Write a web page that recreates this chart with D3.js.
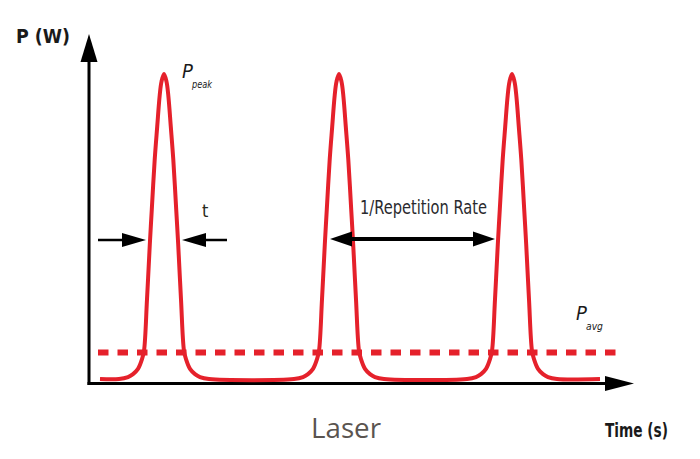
<!DOCTYPE html>
<html>
<head>
<meta charset="utf-8">
<script src="https://cdn.jsdelivr.net/npm/d3@7"></script>
<style>
  html, body { margin: 0; padding: 0; background: #ffffff; }
  svg { display: block; }
</style>
</head>
<body>
<svg id="chart" width="700" height="459"></svg>
<script>
// ---- data (arbitrary time units, normalised power) ----
const pulseCenters = [75, 250, 423];
const pulseOffsets = [-45, -36, -31, -26, -22, -20, -17, -14.2, -12.2, -9.3, -6.8, -4.3, -2.5, 0, 2.5, 4.3, 6.8, 9.3, 12.2, 14.2, 17, 20, 22, 26, 31, 36, 45];
const pulsePowers  = [0, 0.0065, 0.016, 0.033, 0.065, 0.092, 0.261, 0.441, 0.556, 0.719, 0.827, 0.93, 0.975, 1, 0.975, 0.93, 0.827, 0.719, 0.556, 0.441, 0.261, 0.092, 0.065, 0.033, 0.016, 0.0065, 0];
const traceStart = 11;
const traceEnd = 511;
const avgPower = 0.087;
const avgStart = 9;
const avgEnd = 535;
const timeDomain = [0, 546];
const powerDomain = [0, 1];
const labels = { yAxis: "P (W)", xAxis: "Time (s)", caption: "Laser", rep: "1/Repetition Rate", width: "t", peak: ["P", "peak"], avg: ["P", "avg"] };

// ---- scales ----
const x = d3.scaleLinear().domain(timeDomain).range([89, 635]);
const y = d3.scaleLinear().domain(powerDomain).range([379, 74]);

const svg = d3.select("#chart");
const red = "#e5212b";
const condensed = "'DejaVu Sans Condensed', 'Liberation Sans Narrow', 'DejaVu Sans', sans-serif";

// ---- build trace points ----
const pts = [[traceStart, 0]];
pulseCenters.forEach(c => {
  pulseOffsets.forEach((o, i) => pts.push([c + o, pulsePowers[i]]));
});
pts.push([traceEnd, 0]);

// ---- average power dashed line ----
svg.append("line")
  .attr("x1", x(avgStart)).attr("x2", x(avgEnd))
  .attr("y1", y(avgPower)).attr("y2", y(avgPower))
  .attr("stroke", red).attr("stroke-width", 6)
  .attr("stroke-dasharray", "10.5 9");

// ---- axes (arrows) ----
const axisY0 = y(0) + 4.5;
const ax = svg.append("g");
ax.append("line").attr("x1", x(0)).attr("x2", x(0)).attr("y1", axisY0 + 1.5).attr("y2", 55)
  .attr("stroke", "#000").attr("stroke-width", 3);
ax.append("path").attr("d", d3.line()([[x(0), 34], [x(0) - 8.5, 62], [x(0) + 8.5, 62]]) + "Z").attr("fill", "#000");
ax.append("line").attr("x1", x(0) - 1.5).attr("x2", 612).attr("y1", axisY0).attr("y2", axisY0)
  .attr("stroke", "#000").attr("stroke-width", 3);
ax.append("path").attr("d", d3.line()([[x(timeDomain[1]) - 1, axisY0], [605, axisY0 - 7.5], [605, axisY0 + 7.5]]) + "Z").attr("fill", "#000");

// ---- pulse trace ----
svg.append("path")
  .datum(pts)
  .attr("fill", "none")
  .attr("stroke", red)
  .attr("stroke-width", 4)
  .attr("stroke-linejoin", "round")
  .attr("d", d3.line().x(d => x(d[0])).y(d => y(d[1])).curve(d3.curveCatmullRom.alpha(0.5)));

// ---- helper arrows ----
function arrowHead(g, tipX, tipY, dir, len, hw) {
  g.append("path")
    .attr("d", d3.line()([[tipX, tipY], [tipX - dir * len, tipY - hw], [tipX - dir * len, tipY + hw]]) + "Z")
    .attr("fill", "#000");
}
const ann = svg.append("g");
// pulse width arrows
const wy = 240;
ann.append("line").attr("x1", 98).attr("x2", x(pulseCenters[0] - 18) - 15).attr("y1", wy).attr("y2", wy).attr("stroke", "#000").attr("stroke-width", 2.5);
arrowHead(ann, x(pulseCenters[0] - 18), wy, 1, 24, 7);
ann.append("line").attr("x1", x(pulseCenters[0] + 18) + 15).attr("x2", 227).attr("y1", wy).attr("y2", wy).attr("stroke", "#000").attr("stroke-width", 2.5);
arrowHead(ann, x(pulseCenters[0] + 18), wy, -1, 24, 7);

// repetition arrow (one period)
const ry = 239;
const rx1 = x(pulseCenters[1] - 9), rx2 = x(pulseCenters[2] - 17);
ann.append("line").attr("x1", rx1 + 10).attr("x2", rx2 - 10).attr("y1", ry).attr("y2", ry).attr("stroke", "#000").attr("stroke-width", 4);
arrowHead(ann, rx1, ry, -1, 22, 7.5);
arrowHead(ann, rx2, ry, 1, 22, 7.5);

// ---- text ----
svg.append("text").attr("x", 16).attr("y", 43).text(labels.yAxis)
  .attr("font-family", condensed).attr("font-weight", "bold").attr("font-size", 20)
  .attr("fill", "#1a1a1a").attr("textLength", 54).attr("lengthAdjust", "spacingAndGlyphs");

svg.append("text").attr("x", 605).attr("y", 437).text(labels.xAxis)
  .attr("font-family", condensed).attr("font-weight", "bold").attr("font-size", 19)
  .attr("fill", "#1a1a1a").attr("textLength", 63).attr("lengthAdjust", "spacingAndGlyphs");

svg.append("text").attr("x", 311).attr("y", 438).text(labels.caption)
  .attr("font-family", "'Open Sans', sans-serif").attr("font-size", 27)
  .attr("fill", "#5a5450").attr("textLength", 70).attr("lengthAdjust", "spacingAndGlyphs");

svg.append("text").attr("x", 360).attr("y", 214).text(labels.rep)
  .attr("font-family", condensed).attr("font-size", 19)
  .attr("fill", "#2a2a2e").attr("textLength", 127).attr("lengthAdjust", "spacingAndGlyphs");

svg.append("text").attr("x", 202).attr("y", 217).text(labels.width)
  .attr("font-family", condensed).attr("font-size", 18)
  .attr("fill", "#2b2a20");

function subLabel(px, py, parts, w2) {
  const g = svg.append("g").attr("font-family", condensed).attr("font-style", "italic").attr("fill", "#1a1a1a");
  g.append("text").attr("x", px).attr("y", py).text(parts[0]).attr("font-size", 20);
  g.append("text").attr("x", px + 10).attr("y", py + 10).text(parts[1]).attr("font-size", 10)
    .attr("textLength", w2).attr("lengthAdjust", "spacingAndGlyphs");
}
subLabel(182, 78, labels.peak, 20);
subLabel(576, 320, labels.avg, 17);
</script>
</body>
</html>
